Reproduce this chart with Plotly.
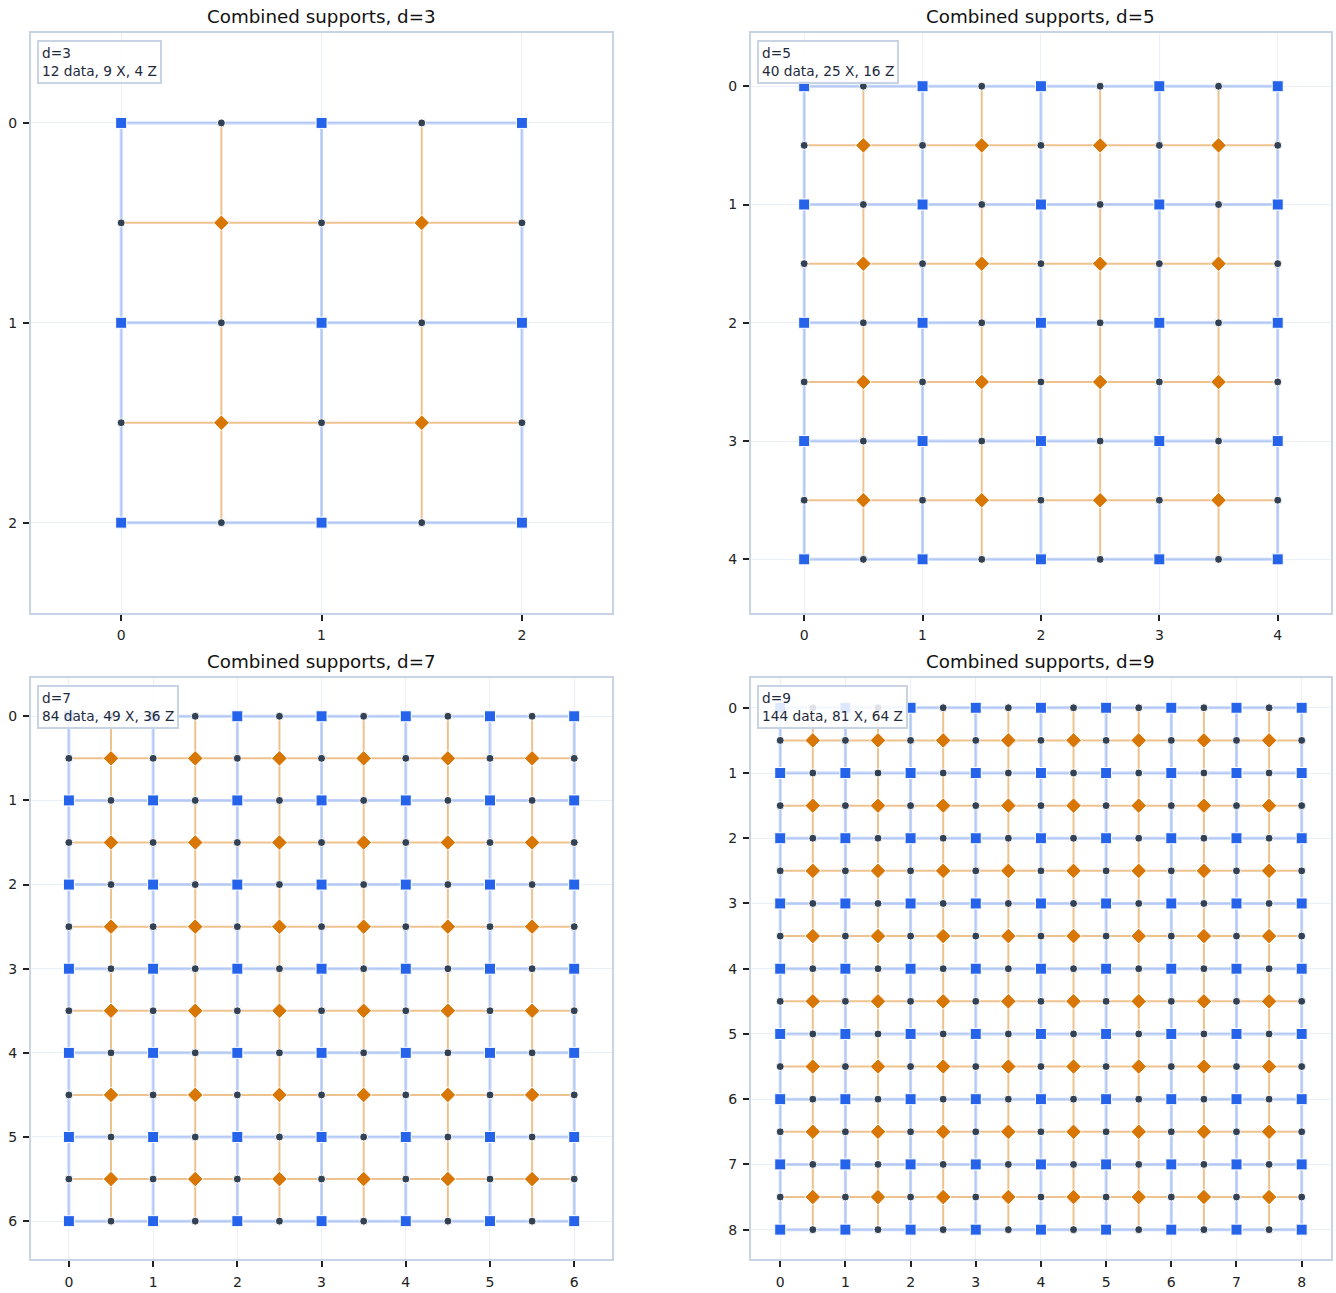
import plotly.graph_objects as go

# Code distances shown, one panel each
DISTANCES = [3, 5, 7, 9]
DATA_COUNTS = [12, 40, 84, 144]
X_COUNTS = [9, 25, 49, 81]
Z_COUNTS = [4, 16, 36, 64]

X_COLOR = "#2563eb"
Z_COLOR = "#d97706"
DATA_COLOR = "#334155"
X_LINE = "rgba(37,99,235,0.28)"
Z_LINE = "rgba(217,119,6,0.45)"
FRAME = "#c8d4e3"
GRID = "#ebf0f8"
FONT = "DejaVu Sans"

W, H = 1336, 1293
ML, MR, MT, MB = 31, 3, 33, 31
PW, PH = W - ML - MR, H - MT - MB

# panel pixel boxes (left, right, top, bottom)
PANELS = [(31, 613, 33, 614), (752, 1333, 33, 614),
          (31, 613, 680, 1262), (752, 1333, 680, 1262)]


def lattice(d):
    """Stabilizer and data-qubit positions of the rotated grid."""
    xs = [(c, r) for r in range(d) for c in range(d)]
    zs = [(c + 0.5, r + 0.5) for r in range(d - 1) for c in range(d - 1)]
    data = [(c + 0.5, r) for r in range(d) for c in range(d - 1)]
    data += [(c, r + 0.5) for r in range(d - 1) for c in range(d)]
    return xs, zs, data


def segments(coords):
    xs, ys = [], []
    for (x0, y0), (x1, y1) in coords:
        xs += [x0, x1, None]
        ys += [y0, y1, None]
    return xs, ys


fig = go.Figure()
annotations = []

for i, d in enumerate(DISTANCES):
    n = i + 1
    xa = "x" if n == 1 else f"x{n}"
    ya = "y" if n == 1 else f"y{n}"
    xs, zs, data = lattice(d)
    hi = d - 1

    # support lines: X supports on integer rows/cols, Z on half-integer ones
    x_segs = [((0, k), (hi, k)) for k in range(d)] + [((k, 0), (k, hi)) for k in range(d)]
    z_segs = [((0, k + 0.5), (hi, k + 0.5)) for k in range(d - 1)] + \
             [((k + 0.5, 0), (k + 0.5, hi)) for k in range(d - 1)]
    lx, ly = segments(x_segs)
    fig.add_trace(go.Scatter(x=lx, y=ly, mode="lines", line=dict(color=X_LINE, width=3),
                             xaxis=xa, yaxis=ya, showlegend=False, hoverinfo="skip"))
    lx, ly = segments(z_segs)
    fig.add_trace(go.Scatter(x=lx, y=ly, mode="lines", line=dict(color=Z_LINE, width=2),
                             xaxis=xa, yaxis=ya, showlegend=False, hoverinfo="skip"))

    fig.add_trace(go.Scatter(x=[p[0] for p in data], y=[p[1] for p in data], mode="markers",
                             marker=dict(symbol="circle", size=8, color=DATA_COLOR,
                                         line=dict(color="white", width=1)),
                             xaxis=xa, yaxis=ya, showlegend=False, name="data"))
    fig.add_trace(go.Scatter(x=[p[0] for p in xs], y=[p[1] for p in xs], mode="markers",
                             marker=dict(symbol="square", size=11, color=X_COLOR,
                                         line=dict(color="white", width=1)),
                             xaxis=xa, yaxis=ya, showlegend=False, name="X"))
    fig.add_trace(go.Scatter(x=[p[0] for p in zs], y=[p[1] for p in zs], mode="markers",
                             marker=dict(symbol="diamond", size=12, color=Z_COLOR,
                                         line=dict(color="white", width=1)),
                             xaxis=xa, yaxis=ya, showlegend=False, name="Z"))

    l, r, t, b = PANELS[i]
    xdom = [(l - ML) / PW, (r - ML) / PW]
    ydom = [1 - (b - MT) / PH, 1 - (t - MT) / PH]
    axis_common = dict(showline=True, mirror=True, linecolor=FRAME, linewidth=2,
                       showgrid=True, gridcolor=GRID, gridwidth=1, zeroline=False,
                       ticks="outside", ticklen=6, tickcolor="#222", tickwidth=1.5,
                       ticklabelstandoff=3,
                       tickmode="array", tickvals=list(range(d)),
                       tickfont=dict(family=FONT, size=14, color="#222"))
    fig.layout[("xaxis" if n == 1 else f"xaxis{n}")] = dict(
        domain=xdom, range=[-0.45, hi + 0.45], anchor=ya, **axis_common)
    fig.layout[("yaxis" if n == 1 else f"yaxis{n}")] = dict(
        domain=ydom, range=[hi + 0.45, -0.45], anchor=xa, **axis_common)

    annotations.append(dict(
        text=f"Combined supports, d={d}", xref="paper", yref="paper",
        x=(xdom[0] + xdom[1]) / 2, y=ydom[1], xanchor="center", yanchor="bottom",
        yshift=4, showarrow=False, font=dict(family=FONT, size=18.3, color="#111")))
    annotations.append(dict(
        text=f"d={d}<br>{DATA_COUNTS[i]} data, {X_COUNTS[i]} X, {Z_COUNTS[i]} Z",
        xref=f"{xa} domain", yref=f"{ya} domain", x=0.01, y=0.988,
        xanchor="left", yanchor="top", align="left", showarrow=False,
        bgcolor="rgba(255,255,255,0.85)", bordercolor=FRAME, borderwidth=2, borderpad=3,
        font=dict(family=FONT, size=13.7, color="#1e293b")))

fig.update_layout(
    width=W, height=H, margin=dict(l=ML, r=MR, t=MT, b=MB),
    paper_bgcolor="white", plot_bgcolor="white",
    font=dict(family=FONT), annotations=annotations, showlegend=False)

fig.write_html("out.html")
